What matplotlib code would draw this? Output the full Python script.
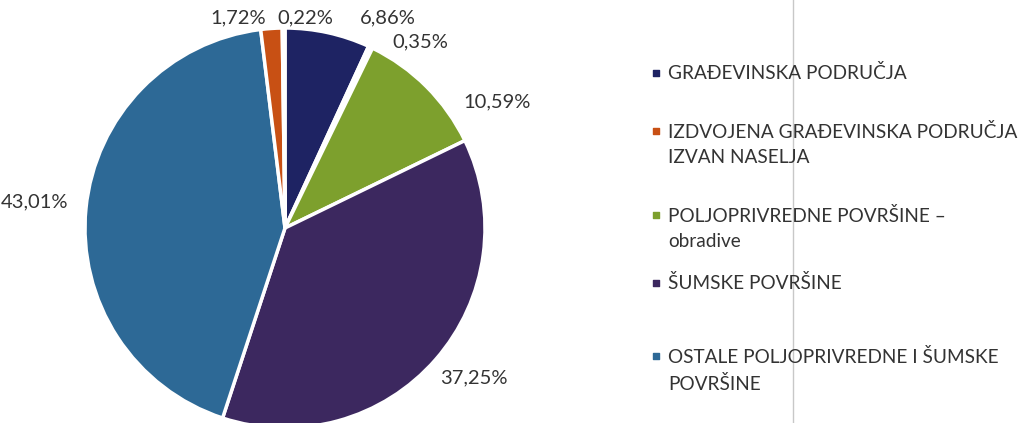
import matplotlib
matplotlib.use("Agg")
from matplotlib import pyplot as plt

# udjeli povrsina (%), redom od 12 sati u smjeru kazaljke
values = [6.86, 0.35, 10.59, 37.25, 43.01, 1.72, 0.22]
pct_labels = ["6,86%", "0,35%", "10,59%", "37,25%", "43,01%", "1,72%", "0,22%"]
colors = ["#1e2363", "white", "#7da02d", "#3c285f", "#2d6996", "#c85014", "white"]

legend_names = [
    "GRAĐEVINSKA PODRUČJA",
    "IZDVOJENA GRAĐEVINSKA PODRUČJA\nIZVAN NASELJA",
    "POLJOPRIVREDNE POVRŠINE –\nobradive",
    "ŠUMSKE POVRŠINE",
    "OSTALE POLJOPRIVREDNE I ŠUMSKE\nPOVRŠINE",
]
legend_colors = ["#1e2363", "#c85014", "#7da02d", "#3c285f", "#2d6996"]

# polozaj natpisa (u jedinicama radijusa) i legende (pikseli) - samo raspored
label_pos = [(0.515, 1.05), (0.675, 0.93), (1.06, 0.63), (0.945, -0.75),
             (-1.25, 0.13), (-0.235, 1.05), (0.10, 1.05)]
legend_y = [73, 131, 215, 283, 356]

plt.rcParams['font.family'] = ['Lato', 'DejaVu Sans']

W, H = 1021, 423
fig = plt.figure(figsize=(W / 100, H / 100), dpi=100)

# pita
cx, cy, r = 285, 228, 200
ax = fig.add_axes([(cx - r) / W, (H - cy - r) / H, 2 * r / W, 2 * r / H])
ax.pie(values, colors=colors, startangle=90, counterclock=False,
       wedgeprops=dict(edgecolor="white", linewidth=2.5))
ax.set_xlim(-1, 1)
ax.set_ylim(-1, 1)
ax.set_aspect("equal")
for txt, (x, y) in zip(pct_labels, label_pos):
    ax.text(x, y, txt, ha="center", va="center", fontsize=14.5, color="#333333",
            clip_on=False)

# legenda
lax = fig.add_axes([0, 0, 1, 1])
lax.set_xlim(0, W)
lax.set_ylim(H, 0)
lax.axis("off")
lax.axvline(793, color="#c8c8c8", linewidth=1)
for name, col, y in zip(legend_names, legend_colors, legend_y):
    lax.scatter([656], [y], marker="s", s=22, color=col)
    lax.text(668, y, name, ha="left", va="center", fontsize=13.7,
             color="#333333", linespacing=1.6)

# za vise redova tekst treba poravnati prvi red s markerom
for t in lax.texts:
    if "\n" in t.get_text():
        t.set_va("top")
        t.set_y(t.get_position()[1] - 8)

fig.savefig("out.png", dpi=100)
